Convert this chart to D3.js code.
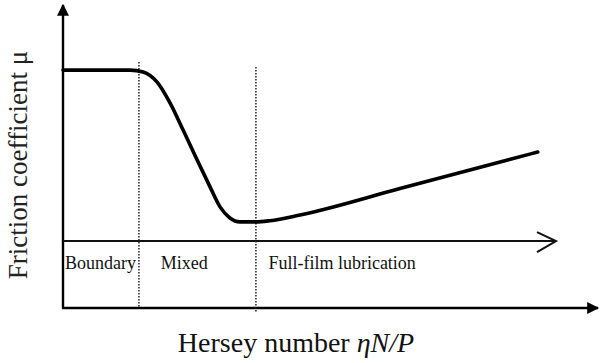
<!DOCTYPE html>
<html>
<head>
<meta charset="utf-8">
<script src="https://d3js.org/d3.v7.min.js"></script>
<style>
  body { margin: 0; background: #fff; }
  svg { display: block; font-family: "Liberation Serif", "DejaVu Serif", serif; }
</style>
</head>
<body>
<div id="chart"></div>
<script>
// Stribeck-type curve (arbitrary units 0..100)
const hersey = [0, 12.9, 15.4, 18.1, 20.6, 23.1, 25.8, 28.3, 30.2, 32.1, 34, 37.1, 39.8, 45.6, 64.8, 91.3];
const friction = [79.3, 79.3, 78.7, 75.3, 68.3, 59.3, 49.3, 40.3, 33.7, 30, 28.7, 28.7, 29.1, 31, 39.8, 52];

// regime boundaries and labels
const boundaries = [14.6, 37.1];
const regimes = ["Boundary", "Mixed", "Full-film lubrication"];
const regimeLabelX = [0.4, 18.8, 39.5];
const innerAxisLevel = 22.3;

const width = 600;
const height = 363;

const x = d3.scaleLinear().domain([0, 100]).range([63, 583]);
const y = d3.scaleLinear().domain([0, 100]).range([308, 8]);

const svg = d3.select("#chart").append("svg")
    .attr("width", width)
    .attr("height", height);

// filled arrow heads for the main axes
const defs = svg.append("defs");
defs.append("marker")
    .attr("id", "solid")
    .attr("viewBox", "0 0 10 10")
    .attr("refX", 9).attr("refY", 5)
    .attr("markerWidth", 11).attr("markerHeight", 5)
    .attr("markerUnits", "strokeWidth")
    .attr("orient", "auto")
    .append("path")
    .attr("d", "M0,0 L10,5 L0,10 Z")
    .attr("fill", "#000");

// main axes
svg.append("line")
    .attr("x1", x(0)).attr("y1", y(0))
    .attr("x2", x(0)).attr("y2", 5)
    .attr("stroke", "#000").attr("stroke-width", 2.4)
    .attr("marker-end", "url(#solid)");

svg.append("line")
    .attr("x1", x(0) - 1).attr("y1", y(0))
    .attr("x2", 598).attr("y2", y(0))
    .attr("stroke", "#000").attr("stroke-width", 2.4)
    .attr("marker-end", "url(#solid)");

// inner axis with open arrow
const innerY = y(innerAxisLevel);
svg.append("line")
    .attr("x1", x(0)).attr("y1", innerY)
    .attr("x2", 556).attr("y2", innerY)
    .attr("stroke", "#111").attr("stroke-width", 2);
svg.append("path")
    .attr("d", `M537,${innerY - 9} L556,${innerY} L537,${innerY + 11}`)
    .attr("fill", "none")
    .attr("stroke", "#111").attr("stroke-width", 2);

// dotted regime dividers
svg.selectAll("line.divider")
    .data(boundaries)
    .enter()
    .append("line")
    .attr("class", "divider")
    .attr("x1", d => x(d)).attr("x2", d => x(d))
    .attr("y1", (d, i) => i === 0 ? 62 : 67)
    .attr("y2", (d, i) => i === 0 ? y(0) : 313)
    .attr("stroke", "#222")
    .attr("stroke-width", 1.5)
    .attr("stroke-dasharray", "1.5,1.5");

// friction curve
const pts = hersey.map((h, i) => [h, friction[i]]);
const line = d3.line()
    .x(d => x(d[0]))
    .y(d => y(d[1]))
    .curve(d3.curveMonotoneX);

svg.append("path")
    .attr("d", line(pts))
    .attr("fill", "none")
    .attr("stroke", "#000")
    .attr("stroke-width", 3.6)
    .attr("stroke-linecap", "round");

// regime labels
svg.selectAll("text.regime")
    .data(regimes)
    .enter()
    .append("text")
    .attr("class", "regime")
    .attr("x", (d, i) => x(regimeLabelX[i]))
    .attr("y", 269)
    .attr("font-size", 18)
    .attr("fill", "#111")
    .text(d => d);

// axis titles
svg.append("text")
    .attr("transform", "translate(27,165) rotate(-90)")
    .attr("text-anchor", "middle")
    .attr("font-size", 27)
    .attr("fill", "#222")
    .text("Friction coefficient μ");

const xt = svg.append("text")
    .attr("x", 296)
    .attr("y", 352)
    .attr("text-anchor", "middle")
    .attr("font-size", 28)
    .attr("fill", "#111");
xt.append("tspan").text("Hersey number ");
xt.append("tspan").attr("font-style", "italic").text("ηN/P");
</script>
</body>
</html>
